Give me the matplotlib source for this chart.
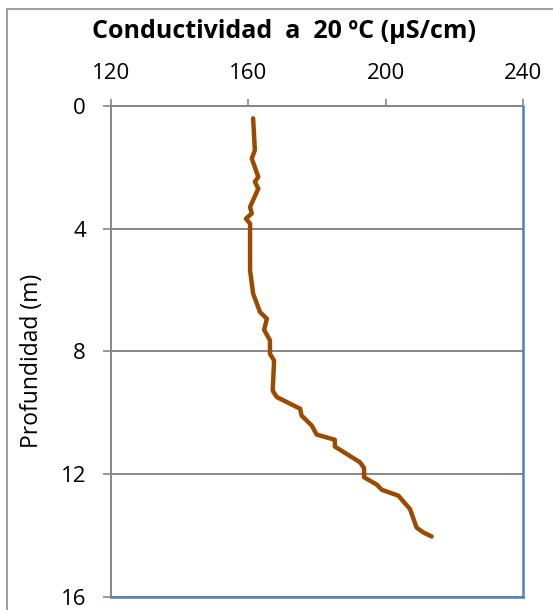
import matplotlib.pyplot as plt
from matplotlib.patches import Rectangle

# conductivity profile
conductividad = [161.4, 161.9, 161.0, 162.9, 161.9, 162.9, 160.5, 161.0, 159.3, 160.5,
                 160.5, 161.4, 163.4, 165.4, 164.6, 166.3, 166.3, 167.5, 167.1, 168.3,
                 175.1, 175.5, 178.5, 179.9, 185.2, 185.2, 192.5, 193.7, 193.7, 197.4,
                 198.9, 203.7, 207.1, 209.0, 211.0, 213.4]
profundidad = [0.41, 1.45, 1.72, 2.32, 2.48, 2.70, 3.30, 3.51, 3.68, 3.84,
               5.36, 6.12, 6.72, 6.94, 7.30, 7.64, 8.08, 8.30, 9.28, 9.49,
               9.87, 10.09, 10.42, 10.71, 10.88, 11.10, 11.61, 11.80, 12.10, 12.34,
               12.51, 12.70, 13.14, 13.74, 13.90, 14.03]
x_ticks = [120, 160, 200, 240]
y_ticks = [0, 4, 8, 12, 16]

plt.rcParams["font.family"] = ["Open Sans", "DejaVu Sans"]
gray = "#868686"
blue = "#4F81BD"

fig = plt.figure(figsize=(5.53, 6.10), dpi=100)
ax = fig.add_axes([111 / 553, 1 - 597 / 610, 412 / 553, 491.3 / 610])

ax.plot(conductividad, profundidad, color="#9C4A00", lw=3.2, solid_capstyle="round",
        solid_joinstyle="round", zorder=3)

ax.set_xlim(120, 240)
ax.set_ylim(16, 0)
ax.set_xticks(x_ticks)
ax.set_yticks(y_ticks)
ax.xaxis.tick_top()
ax.tick_params(axis="x", length=5, width=1.2, color=gray, pad=10.5, labelsize=16)
ax.tick_params(axis="y", length=6, width=1.2, color=gray, pad=12, labelsize=16)

ax.yaxis.grid(True, color=gray, lw=1.4)
ax.set_axisbelow(True)

for side in ["right", "bottom"]:
    ax.spines[side].set_color(blue)
    ax.spines[side].set_linewidth(1.8)
for side in ["top", "left"]:
    ax.spines[side].set_color(gray)
    ax.spines[side].set_linewidth(1.4)

fig.text(284 / 553, 1 - 31 / 610, "Conductividad  a  20 ºC (µS/cm)", ha="center",
         va="center", fontsize=18, fontweight="bold")
fig.text(32 / 553, 1 - 361 / 610, "Profundidad (m)", ha="center", va="center",
         rotation=90, fontsize=16.5)

fig.patches.append(Rectangle((7 / 553, -0.1), 1.2, 1.1 - 9 / 610, transform=fig.transFigure,
                             fill=False, edgecolor="#8C8C8C", lw=1.2, clip_on=False))

fig.savefig("out.png", dpi=100)
plt.close(fig)
